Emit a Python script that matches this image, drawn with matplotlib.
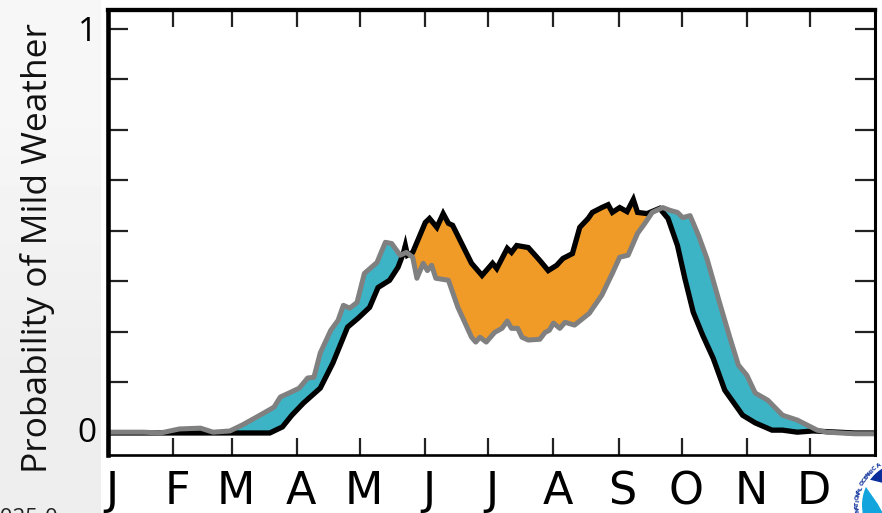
import numpy as np
import matplotlib
matplotlib.use("Agg")
import matplotlib.pyplot as plt
from matplotlib.patches import Circle, Polygon
from matplotlib.transforms import ScaledTranslation

# =============================
# Data
# =============================

month_labels = ['J', 'F', 'M', 'A', 'M', 'J', 'J', 'A', 'S', 'O', 'N', 'D']
month_starts = [0, 31, 59, 90, 120, 151, 181, 212, 243, 273, 304, 334]
y_ticks = [0, 0.125, 0.25, 0.375, 0.5, 0.625, 0.75, 0.875, 1]
y_labels = ['0', '', '', '', '', '', '', '', '1']

grey_days = [1, 17, 25, 34, 44, 50, 58, 64, 74, 79, 82, 87, 91, 95, 98, 101, 106, 109.5, 112, 115,
             118.5, 122, 128, 132, 135, 139, 142, 145, 147, 150, 152, 154, 156, 162, 166.5, 173,
             175, 177, 180, 184, 187.5, 190, 192, 195, 197, 200, 205.5, 208, 210, 212, 215, 217.5,
             222, 229, 235, 240, 243.5, 247.5, 252, 255.5, 259, 264, 267.5, 271, 273.5, 277, 281,
             285, 291, 296, 300, 304, 308, 314, 321, 328, 337.5, 342, 355.5, 365]
grey_prob = [.002, .002, 0, .010, .012, .002, .005, .020, .049, .064, .089, .101, .111, .136, .138,
             .198, .254, .279, .316, .309, .323, .395, .422, .472, .469, .440, .447, .435, .383,
             .420, .402, .415, .383, .378, .311, .237, .225, .237, .225, .249, .259, .277, .259,
             .259, .237, .230, .232, .249, .254, .272, .259, .274, .267, .296, .341, .395, .435,
             .440, .494, .519, .546, .558, .551, .546, .533, .538, .489, .432, .323, .235, .168,
             .143, .099, .081, .044, .032, .007, .002, -.002, -.002]

black_days = [1, 31, 50, 77, 83, 87.5, 93, 101, 107, 114, 119, 124.5, 128.5, 134, 138, 140.5, 141.5,
              142.5, 145, 151, 153, 156.5, 159.5, 162, 164, 173, 178, 183, 185, 190, 192, 194.5,
              200, 205.5, 209.5, 213.5, 216.5, 221, 224.5, 228.5, 230.5, 235, 238, 240, 243.5, 247,
              250, 252, 256.5, 262.5, 266.5, 271, 274.5, 278.5, 283, 288, 293.5, 302, 308, 316,
              321, 328, 335.5, 355.5, 365]
black_prob = [0, 0, 0, 0, .015, .044, .074, .111, .173, .262, .284, .311, .360, .378, .410, .444,
              .464, .440, .447, .521, .531, .509, .543, .519, .514, .420, .390, .420, .407, .457,
              .447, .464, .459, .427, .402, .415, .432, .444, .509, .531, .546, .558, .565, .546,
              .558, .548, .578, .546, .543, .556, .531, .464, .383, .299, .242, .185, .106, .044,
              .025, .007, .007, .002, .005, 0, 0]

W, H = 882, 513
fig = plt.figure(figsize=(W / 100, H / 100), dpi=100, facecolor='white')

# -------------------------
# Slide background (grey strip on the left)
# -------------------------

bg = fig.add_axes([0, 0, 1, 1], zorder=0)
bg.axis('off')
bg.imshow([[0.965], [0.93]], extent=[0, 101, H, 0], cmap='gray', vmin=0, vmax=1,
          aspect='auto', interpolation='bilinear')
bg.set_xlim(0, W)
bg.set_ylim(H, 0)

# -------------------------
# Main axes
# -------------------------

ax = fig.add_axes([108 / W, 1 - 455 / H, (875 - 108) / W, (455 - 10) / H], zorder=1)
ax.set_xlim(0, 365)
ax.set_ylim(-0.0545, 1.047)

# both curves on one grid, only so the shading changes colour where they cross
fill_x = np.array(sorted(set(grey_days) | set(black_days)))
fill_g = np.interp(fill_x, grey_days, grey_prob)
fill_b = np.interp(fill_x, black_days, black_prob)
ax.fill_between(fill_x, fill_g, fill_b, where=fill_b >= fill_g, color='#F09A27', lw=0, interpolate=True)
ax.fill_between(fill_x, fill_g, fill_b, where=fill_b <= fill_g, color='#3DB4C6', lw=0, interpolate=True)

ax.plot(black_days, black_prob, color='black', lw=3.8, solid_joinstyle='miter')
ax.plot(grey_days, grey_prob, color='#808080', lw=3.6, solid_joinstyle='round')

ax.set_xticks(month_starts)
ax.set_xticklabels(month_labels, fontsize=32, family='DejaVu Sans')
ax.set_yticks(y_ticks)
ax.set_yticklabels(y_labels, fontsize=24, family='Open Sans')
ax.tick_params(axis='x', direction='in', top=True, length=12.5, width=1.6, pad=11, color='#222222')
ax.tick_params(axis='y', direction='in', right=True, length=14.5, width=1.6, pad=8, color='#222222')

shift = ScaledTranslation(4 / 100, 0, fig.dpi_scale_trans)
for lab in ax.get_xticklabels():
    lab.set_transform(lab.get_transform() + shift)
up = ScaledTranslation(0, 3 / 100, fig.dpi_scale_trans)
zero_lab = ax.get_yticklabels()[0]
zero_lab.set_transform(zero_lab.get_transform() + up)

ax.spines['left'].set_linewidth(3.3)
ax.spines['top'].set_linewidth(3.1)
ax.spines['bottom'].set_linewidth(1.9)
ax.spines['right'].set_linewidth(2.2)

fig.text(38 / W, 1 - 248 / H, 'Probability of Mild Weather', rotation=90, fontsize=25.5,
         family='Open Sans', ha='center', va='center', color='#111111')

# -------------------------
# Overlay: cut off date and logo at the slide edge
# -------------------------

over = fig.add_axes([0, 0, 1, 1], zorder=2)
over.set_xlim(0, W)
over.set_ylim(H, 0)
over.axis('off')
over.patch.set_alpha(0)

fig.text(-12 / W, 1 - 508 / H, '2025-0', fontsize=16, family='Open Sans', va='top', ha='left',
         color='#222222')

cx, cy, r = 905, 505, 52
over.add_patch(Circle((cx, cy), r, color='white', zorder=1))
inner = Circle((cx, cy), 43, color='white', zorder=2)
over.add_patch(inner)
dark = Polygon([(860, 450), (890, 450), (890, 484), (866, 478)], color='#0A2F9C', zorder=3)
light = Polygon([(850, 484), (863, 484), (870, 494), (877, 504), (882, 513), (850, 513)],
                color='#12A5DD', zorder=3)
over.add_patch(dark)
over.add_patch(light)
dark.set_clip_path(inner)
light.set_clip_path(inner)

ring_text = 'NATIONAL OCEANIC A'
angles = np.linspace(186, 123, len(ring_text))
for ch, a in zip(ring_text, angles):
    t = np.deg2rad(a)
    over.text(cx + 47.5 * np.cos(t), cy - 47.5 * np.sin(t), ch, fontsize=4.2, color='#0A2F9C',
              family='DejaVu Sans', weight='bold', rotation=a - 90, ha='center', va='center',
              zorder=5)

fig.savefig('out.png', dpi=100)
